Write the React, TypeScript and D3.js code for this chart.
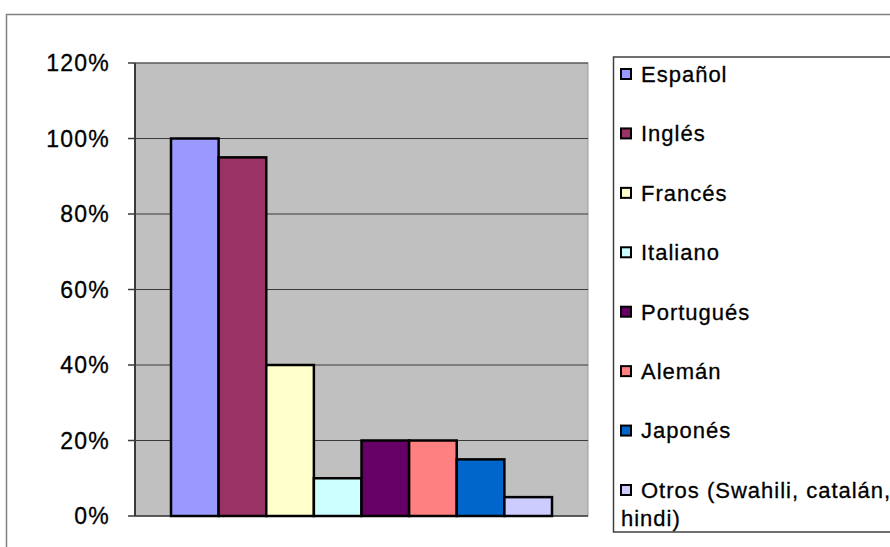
import React from "react";
import * as d3 from "d3";

const categories = ["Español", "Inglés", "Francés", "Italiano", "Portugués", "Alemán", "Japonés", "Otros (Swahili, catalán, hindi)"];
const values = [100, 95, 40, 10, 20, 20, 15, 5];
const colors = ["#9999FF", "#993366", "#FFFFCC", "#CCFFFF", "#660066", "#FF8080", "#0066CC", "#CCCCFF"];
const yTicks = [0, 20, 40, 60, 80, 100, 120];

export default function App() {
  const W = 890, H = 547;
  const plot = { x0: 135, x1: 588, y0: 63, y1: 516 };
  const y = d3.scaleLinear().domain([0, 120]).range([plot.y1, plot.y0]);
  const x = d3.scaleBand<number>().domain(d3.range(values.length)).range([171, 552]).paddingInner(0);
  const font = "'Liberation Sans', Arial, sans-serif";
  const legendY = d3.scaleLinear().domain([0, 7]).range([74, 490]);
  return (
    <div style={{ position: "fixed", left: 0, top: 0, width: W, height: H, background: "#fff" }}>
      <svg width={W} height={H} style={{ display: "block" }}>
        <rect x={6.5} y={14.5} width={W + 10} height={H + 10} fill="#fff" stroke="#808080" strokeWidth={1.5} />
        <rect x={plot.x0} y={plot.y0} width={plot.x1 - plot.x0} height={plot.y1 - plot.y0} fill="#C0C0C0" stroke="#999" strokeWidth={1} />
        {yTicks.map((t) => (
          <g key={t}>
            {t > 0 && <line x1={plot.x0} x2={plot.x1} y1={y(t)} y2={y(t)} stroke="#3a3a3a" strokeWidth={1.2} />}
            <line x1={128} x2={plot.x0} y1={y(t)} y2={y(t)} stroke="#3a3a3a" strokeWidth={1.5} />
            <text x={110} y={y(t)} dy="0.36em" textAnchor="end" fontFamily={font} fontSize={23} letterSpacing={1.2} fill="#000" stroke="#000" strokeWidth={0.3}>{t}%</text>
          </g>
        ))}
        <line x1={plot.x0} x2={plot.x0} y1={plot.y0} y2={plot.y1} stroke="#3a3a3a" strokeWidth={2} />
        <line x1={plot.x0} x2={plot.x1} y1={plot.y1} y2={plot.y1} stroke="#3a3a3a" strokeWidth={1.5} />
        {values.map((v, i) => (
          <rect key={i} x={x(i)!} y={y(v)} width={x.bandwidth()} height={y(0) - y(v)} fill={colors[i]} stroke="#000" strokeWidth={2.5} />
        ))}
        <rect x={613.5} y={57} width={W} height={475} fill="#fff" stroke="#404040" strokeWidth={1.5} />
        {categories.map((c, i) => {
          const ly = legendY(i);
          const lines = i === 7 ? ["Otros (Swahili, catalán,", "hindi)"] : [c];
          return (
            <g key={c}>
              <rect x={621} y={ly - 5} width={10} height={10} fill={colors[i]} stroke="#000" strokeWidth={2} />
              {lines.map((l, k) => (
                <text key={k} x={k === 0 ? 641 : 621} y={ly + k * 28} dy="0.36em" fontFamily={font} fontSize={22} letterSpacing={1} fill="#000" stroke="#000" strokeWidth={0.3}>{l}</text>
              ))}
            </g>
          );
        })}
      </svg>
    </div>
  );
}
